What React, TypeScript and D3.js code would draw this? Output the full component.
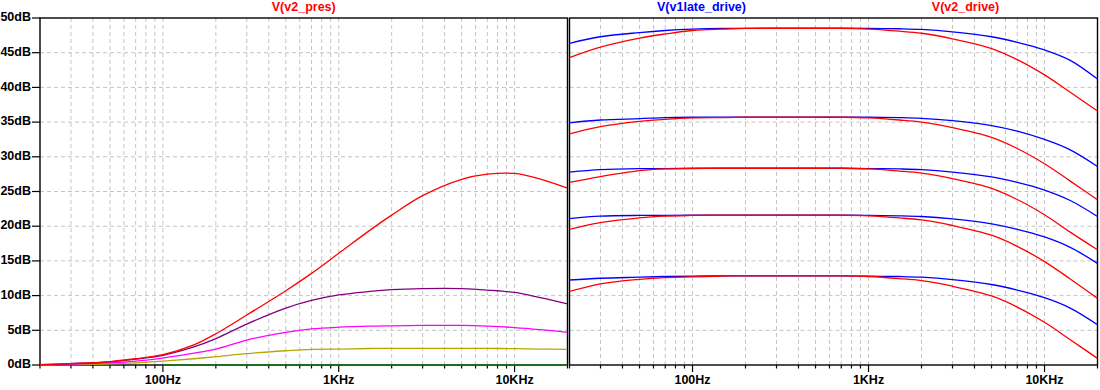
import * as d3 from 'd3';

// frequency points (Hz) the traces were read at
const freqs = [20, 30, 50, 70, 100, 150, 200, 300, 500, 700, 1000, 1500, 2000, 3000, 5000, 7000, 10000, 14000, 20000];

// left pane: V(v2_pres), one trace per setting (dB)
const presRed = [0.05, 0.2, 0.5, 0.9, 1.5, 2.9, 4.5, 7.2, 10.7, 13.2, 16.1, 19.4, 21.6, 24.4, 26.75, 27.5, 27.6, 26.8, 25.5];
const presPurple = [0.05, 0.2, 0.45, 0.85, 1.4, 2.6, 3.8, 5.9, 8.2, 9.3, 10.1, 10.6, 10.85, 11.0, 11.0, 10.8, 10.45, 9.7, 8.8];
const presMagenta = [0.03, 0.12, 0.3, 0.55, 1.0, 1.7, 2.3, 3.6, 4.7, 5.2, 5.45, 5.6, 5.65, 5.7, 5.7, 5.6, 5.4, 5.1, 4.7];
const presOlive = [0.02, 0.06, 0.15, 0.3, 0.55, 0.9, 1.2, 1.65, 2.05, 2.25, 2.3, 2.38, 2.4, 2.4, 2.4, 2.4, 2.35, 2.3, 2.25];
const greenFreqs = [100, 20000];
const presGreen = [0, 0];

// right pane: V(v1late_drive) (blue) and V(v2_drive) (red), five settings
const late1 = [46.35, 47.3, 47.9, 48.2, 48.4, 48.5, 48.5, 48.55, 48.55, 48.55, 48.5, 48.45, 48.35, 48.0, 47.3, 46.5, 45.4, 43.9, 41.2];
const drive1 = [44.3, 45.8, 47.1, 47.7, 48.2, 48.4, 48.5, 48.5, 48.5, 48.5, 48.4, 48.1, 47.8, 47.0, 45.6, 44.0, 41.8, 39.3, 36.6];
const late2 = [34.9, 35.3, 35.5, 35.65, 35.7, 35.7, 35.7, 35.7, 35.7, 35.7, 35.7, 35.65, 35.55, 35.2, 34.5, 33.7, 32.5, 31.0, 28.6];
const drive2 = [33.3, 34.35, 35.1, 35.4, 35.6, 35.65, 35.7, 35.7, 35.7, 35.7, 35.6, 35.3, 35.0, 34.2, 32.8, 31.2, 29.0, 26.5, 23.8];
const late3 = [27.8, 28.15, 28.3, 28.3, 28.35, 28.35, 28.35, 28.35, 28.35, 28.35, 28.3, 28.25, 28.15, 27.8, 27.1, 26.3, 25.2, 23.7, 21.4];
const drive3 = [26.3, 27.15, 28.0, 28.25, 28.3, 28.35, 28.35, 28.35, 28.35, 28.35, 28.25, 27.95, 27.65, 26.85, 25.45, 23.85, 21.65, 19.15, 16.6];
const late4 = [21.1, 21.45, 21.55, 21.55, 21.6, 21.6, 21.6, 21.6, 21.6, 21.6, 21.55, 21.5, 21.4, 21.05, 20.35, 19.55, 18.45, 16.95, 14.65];
const drive4 = [19.55, 20.5, 21.2, 21.45, 21.55, 21.6, 21.6, 21.6, 21.6, 21.6, 21.5, 21.2, 20.9, 20.1, 18.7, 17.1, 14.9, 12.4, 9.6];
const late5 = [12.25, 12.5, 12.65, 12.75, 12.8, 12.85, 12.85, 12.85, 12.85, 12.85, 12.8, 12.75, 12.65, 12.3, 11.6, 10.8, 9.7, 8.2, 5.8];
const drive5 = [10.6, 11.7, 12.35, 12.6, 12.7, 12.8, 12.85, 12.85, 12.85, 12.85, 12.75, 12.45, 12.15, 11.35, 9.95, 8.35, 6.15, 3.65, 0.95];

const yTicks = [0, 5, 10, 15, 20, 25, 30, 35, 40, 45, 50];
const xMajor = [100, 1000, 10000];
const xMajorLabels = ['100Hz', '1KHz', '10KHz'];

const FONT = '"Liberation Sans", Arial, sans-serif';
const TOP = 18;
const BOTTOM = 365;

type Trace = { f: number[]; v: number[]; color: string };
type Title = { text: string; color: string; pos: number };

const Pane = ({ x0, x1, traces, titles, id }: { x0: number; x1: number; traces: Trace[]; titles: Title[]; id: string }) => {
  const x = d3.scaleLog().domain([20, 20000]).range([x0, x1]);
  const y = d3.scaleLinear().domain([0, 50]).range([BOTTOM, TOP]);
  const ticks = x.ticks();

  const pathFor = (t: Trace) =>
    d3
      .line<number>()
      .x((_, i) => x(t.f[i]))
      .y((d) => y(d))
      .curve(d3.curveCatmullRom.alpha(0.5))(t.v) || '';

  return (
    <g>
      <defs>
        <clipPath id={id}>
          <rect x={x0} y={TOP - 1} width={x1 - x0} height={BOTTOM - TOP + 2} />
        </clipPath>
      </defs>
      {ticks
        .filter((f) => f > 20 && f < 20000)
        .map((f) => (
          <line key={'g' + f} x1={x(f)} x2={x(f)} y1={TOP} y2={BOTTOM} stroke="#c4c4c4" strokeDasharray="4,3" />
        ))}
      {yTicks
        .filter((v) => v > 0 && v < 50)
        .map((v) => (
          <line key={'h' + v} x1={x0} x2={x1} y1={y(v)} y2={y(v)} stroke="#c4c4c4" strokeDasharray="4,3" />
        ))}
      {ticks.map((f) => (
        <line
          key={'t' + f}
          x1={x(f)}
          x2={x(f)}
          y1={BOTTOM}
          y2={BOTTOM + (xMajor.includes(f) ? 7 : 3.5)}
          stroke="#000"
          strokeWidth={1.2}
        />
      ))}
      {xMajor.map((f, i) => (
        <text
          key={'l' + f}
          x={x(f)}
          y={381}
          textAnchor="middle"
          dominantBaseline="middle"
          fontFamily={FONT}
          fontWeight="bold"
          fontSize={12.5}
          fill="#000"
        >
          {xMajorLabels[i]}
        </text>
      ))}
      <rect x={x0} y={TOP} width={x1 - x0} height={BOTTOM - TOP} fill="none" stroke="#000" strokeWidth={1.4} />
      <g clipPath={`url(#${id})`}>
        {traces.map((t, i) => (
          <path key={i} d={pathFor(t)} fill="none" stroke={t.color} strokeWidth={1.3} />
        ))}
      </g>
      {titles.map((t) => (
        <text
          key={t.text}
          x={x0 + (x1 - x0) * t.pos}
          y={8}
          textAnchor="middle"
          dominantBaseline="middle"
          fontFamily={FONT}
          fontWeight="bold"
          fontSize={12.5}
          fill={t.color}
        >
          {t.text}
        </text>
      ))}
    </g>
  );
};

export default function App() {
  const y = d3.scaleLinear().domain([0, 50]).range([BOTTOM, TOP]);

  const leftTraces: Trace[] = [
    { f: greenFreqs, v: presGreen, color: '#117a11' },
    { f: freqs, v: presOlive, color: '#b4a800' },
    { f: freqs, v: presMagenta, color: '#ff00ff' },
    { f: freqs, v: presPurple, color: '#800080' },
    { f: freqs, v: presRed, color: '#ff0000' },
  ];

  const lates = [late1, late2, late3, late4, late5];
  const drives = [drive1, drive2, drive3, drive4, drive5];
  const rightTraces: Trace[] = [];
  lates.forEach((l, i) => {
    rightTraces.push({ f: freqs, v: l, color: '#0000ff' });
    rightTraces.push({ f: freqs, v: drives[i], color: '#ff0000' });
  });

  return (
    <svg width={1100} height={390} style={{ position: 'absolute', left: 0, top: 0, background: '#fff' }}>
      <rect x={0} y={0} width={1100} height={390} fill="#fff" />
      {yTicks.map((v) => (
        <g key={v}>
          <line x1={32} x2={40} y1={y(v)} y2={y(v)} stroke="#000" strokeWidth={1.2} />
          <text
            x={31}
            y={y(v)}
            textAnchor="end"
            dominantBaseline="middle"
            fontFamily={FONT}
            fontWeight="bold"
            fontSize={12.5}
            fill="#000"
          >
            {v}dB
          </text>
        </g>
      ))}
      <Pane
        id="clipL"
        x0={40}
        x1={567.5}
        traces={leftTraces}
        titles={[{ text: 'V(v2_pres)', color: '#ff0000', pos: 0.5 }]}
      />
      <Pane
        id="clipR"
        x0={569.5}
        x1={1097.5}
        traces={rightTraces}
        titles={[
          { text: 'V(v1late_drive)', color: '#0000ff', pos: 0.25 },
          { text: 'V(v2_drive)', color: '#ff0000', pos: 0.75 },
        ]}
      />
    </svg>
  );
}
